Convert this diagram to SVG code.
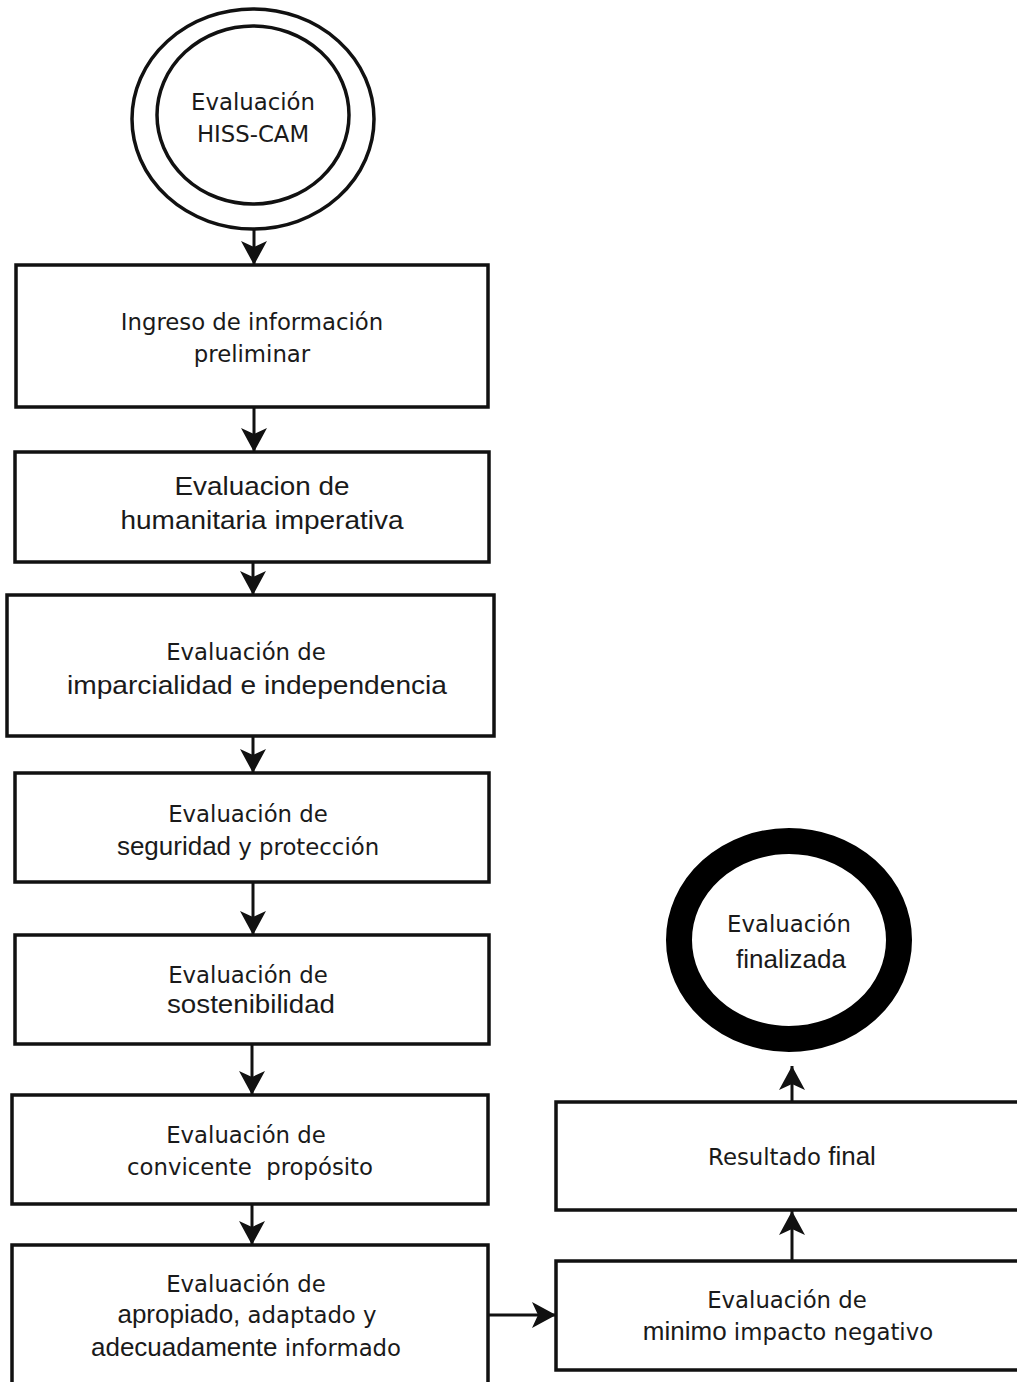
<svg xmlns="http://www.w3.org/2000/svg" width="1017" height="1382" viewBox="0 0 1017 1382">
<defs>
<style>
.box{fill:#fff;stroke:#111;stroke-width:3.5}
.edge{fill:none;stroke:#111;stroke-width:3}
.t{font-family:"DejaVu Sans",Verdana,sans-serif;font-size:22.8px;fill:#1a1a1a;text-anchor:middle}
.a{font-family:"Liberation Sans",Arial,sans-serif;font-size:26px}
</style>
<marker id="arr" markerUnits="userSpaceOnUse" markerWidth="28" markerHeight="28" viewBox="0 0 28 28" refX="24" refY="13" orient="auto">
<path d="M0,0 L24,13 L0,26 L6,13 Z" fill="#111"/>
</marker>
</defs>
<rect width="1017" height="1382" fill="#fff"/>

<g id="connectors">
<line class="edge" x1="254" y1="230" x2="254" y2="265" marker-end="url(#arr)"/>
<line class="edge" x1="254" y1="407" x2="254" y2="452" marker-end="url(#arr)"/>
<line class="edge" x1="253" y1="562" x2="253" y2="595" marker-end="url(#arr)"/>
<line class="edge" x1="253" y1="736" x2="253" y2="773" marker-end="url(#arr)"/>
<line class="edge" x1="253" y1="882" x2="253" y2="935" marker-end="url(#arr)"/>
<line class="edge" x1="252" y1="1044" x2="252" y2="1095" marker-end="url(#arr)"/>
<line class="edge" x1="252" y1="1204" x2="252" y2="1245" marker-end="url(#arr)"/>
<line class="edge" x1="488" y1="1315" x2="556" y2="1315" marker-end="url(#arr)"/>
<line class="edge" x1="792" y1="1261" x2="792" y2="1211" marker-end="url(#arr)"/>
<line class="edge" x1="792" y1="1102" x2="792" y2="1066" marker-end="url(#arr)"/>
</g>

<g id="start">
<ellipse cx="253" cy="119" rx="121" ry="110" fill="#fff" stroke="#111" stroke-width="3.5"/>
<ellipse cx="253" cy="115" rx="96" ry="89" fill="#fff" stroke="#111" stroke-width="3.5"/>
<text class="t" x="253" y="110">Evaluación</text>
<text class="t" x="253" y="142">HISS-CAM</text>
</g>

<g id="n1">
<rect class="box" x="16" y="265" width="472" height="142"/>
<text class="t" x="252" y="330">Ingreso de información</text>
<text class="t" x="252" y="362">preliminar</text>
</g>

<g id="n2">
<rect class="box" x="15" y="452" width="474" height="110"/>
<text class="t a" x="262" y="495" textLength="175" lengthAdjust="spacingAndGlyphs">Evaluacion de</text>
<text class="t a" x="262" y="529" textLength="283" lengthAdjust="spacingAndGlyphs">humanitaria imperativa</text>
</g>

<g id="n3">
<rect class="box" x="7" y="595" width="487" height="141"/>
<text class="t" x="246" y="660">Evaluación de</text>
<text class="t a" x="257" y="694" textLength="380" lengthAdjust="spacingAndGlyphs">imparcialidad e independencia</text>
</g>

<g id="n4">
<rect class="box" x="15" y="773" width="474" height="109"/>
<text class="t" x="248" y="822">Evaluación de</text>
<text class="t" x="248" y="855"><tspan class="a">seguridad</tspan> y protección</text>
</g>

<g id="n5">
<rect class="box" x="15" y="935" width="474" height="109"/>
<text class="t" x="248" y="983">Evaluación de</text>
<text class="t a" x="251" y="1013" textLength="168" lengthAdjust="spacingAndGlyphs">sostenibilidad</text>
</g>

<g id="n6">
<rect class="box" x="12" y="1095" width="476" height="109"/>
<text class="t" x="246" y="1143">Evaluación de</text>
<text class="t" x="250" y="1175" xml:space="preserve">convicente  propósito</text>
</g>

<g id="n7">
<rect class="box" x="12" y="1245" width="476" height="150"/>
<text class="t" x="246" y="1292">Evaluación de</text>
<text class="t" x="247" y="1323"><tspan class="a">apropiado,</tspan> adaptado y</text>
<text class="t" x="246" y="1356"><tspan class="a">adecuadamente</tspan> informado</text>
</g>

<g id="n8">
<rect class="box" x="556" y="1261" width="480" height="109"/>
<text class="t" x="787" y="1308">Evaluación de</text>
<text class="t" x="788" y="1340"><tspan class="a">minimo</tspan> impacto negativo</text>
</g>

<g id="n9">
<rect class="box" x="556" y="1102" width="480" height="108"/>
<text class="t" x="792" y="1165">Resultado <tspan class="a">final</tspan></text>
</g>

<g id="end">
<ellipse cx="789" cy="940" rx="110" ry="99" fill="#fff" stroke="#000" stroke-width="26"/>
<text class="t" x="789" y="932">Evaluación</text>
<text class="t a" x="791" y="968">finalizada</text>
</g>
</svg>
